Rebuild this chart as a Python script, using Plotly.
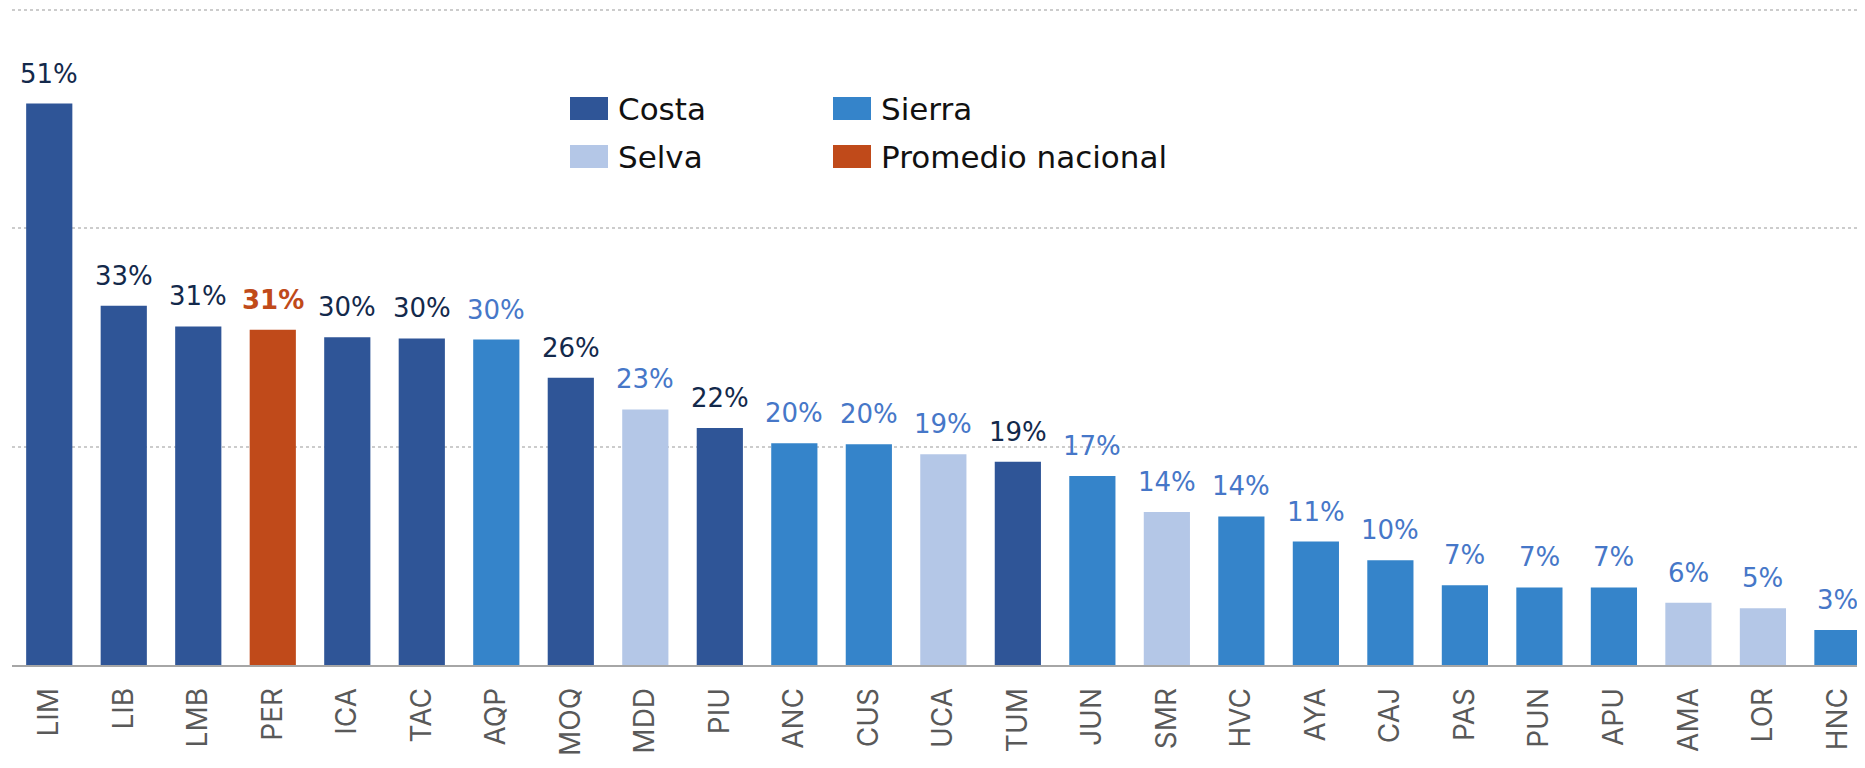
import plotly.graph_objects as go

categories = ["LIM", "LIB", "LMB", "PER", "ICA", "TAC", "AQP", "MOQ", "MDD", "PIU",
              "ANC", "CUS", "UCA", "TUM", "JUN", "SMR", "HVC", "AYA", "CAJ", "PAS",
              "PUN", "APU", "AMA", "LOR", "HNC"]
values = [51.4, 32.9, 31.0, 30.7, 30.0, 29.9, 29.8, 26.3, 23.4, 21.7,
          20.3, 20.2, 19.3, 18.6, 17.3, 14.0, 13.6, 11.3, 9.6, 7.3,
          7.1, 7.1, 5.7, 5.2, 3.2]
regions = ["Costa", "Costa", "Costa", "Promedio nacional", "Costa", "Costa", "Sierra", "Costa", "Selva", "Costa",
           "Sierra", "Sierra", "Selva", "Costa", "Sierra", "Selva", "Sierra", "Sierra", "Sierra", "Sierra",
           "Sierra", "Sierra", "Selva", "Selva", "Sierra"]
legend_order = ["Costa", "Sierra", "Selva", "Promedio nacional"]

bar_colors = {"Costa": "#2F5597", "Sierra": "#3584CA", "Selva": "#B4C7E7", "Promedio nacional": "#C04A1A"}
label_colors = {"Costa": "#13294B", "Sierra": "#4677C8", "Selva": "#4677C8", "Promedio nacional": "#C04A1A"}

# page body has an 8px margin; figure is sized/offset to compensate
OFF = 8
W, H = 1865 - OFF, 768 - OFF
ML, MR, MT, MB = 4, 0, 0, 103
FONT = "'DejaVu Sans', Inter, sans-serif"
TICKFONT = "Inter, Lato, sans-serif"

fig = go.Figure()
fig.add_trace(go.Bar(
    x=categories, y=values,
    marker=dict(color=[bar_colors[r] for r in regions], line=dict(width=0)),
    showlegend=False, hoverinfo="x+y",
))

annotations = []
for c, v, r in zip(categories, values, regions):
    bold = r == "Promedio nacional"
    txt = f"{round(v)}%"
    if bold:
        txt = f"<b>{txt}</b>"
    annotations.append(dict(
        x=c, y=v, xref="x", yref="y", text=txt, showarrow=False,
        yanchor="middle", yshift=30,
        font=dict(family=FONT, size=26, color=label_colors[r]),
    ))

def px(x):
    return (x - OFF - ML) / (W - ML - MR)

def py(y):
    return 1 - (y - OFF - MT) / (H - MT - MB)

shapes = []
legend_pos = {"Costa": (570, 97), "Sierra": (833, 97), "Selva": (570, 145), "Promedio nacional": (833, 145)}
for name in legend_order:
    x0, y0 = legend_pos[name]
    shapes.append(dict(type="rect", xref="paper", yref="paper",
                       x0=px(x0), x1=px(x0 + 38), y0=py(y0), y1=py(y0 + 23),
                       fillcolor=bar_colors[name], line=dict(width=0)))
    annotations.append(dict(
        x=px(x0 + 46), y=py(y0 + 12), xref="paper", yref="paper",
        text=name, showarrow=False, xanchor="left", yanchor="middle",
        font=dict(family=FONT, size=31, color="#111111"),
    ))

fig.update_layout(
    width=W, height=H,
    margin=dict(l=ML, r=MR, t=MT, b=MB, pad=0),
    paper_bgcolor="white", plot_bgcolor="white",
    bargap=0.38,
    shapes=shapes, annotations=annotations,
    xaxis=dict(
        type="category", range=[-0.5, 24.37],
        showline=True, linecolor="#A6A6A6", linewidth=1.5,
        showgrid=False, tickangle=-90, ticks="outside", ticklen=10, tickcolor="rgba(0,0,0,0)",
        tickfont=dict(family=TICKFONT, size=28, color="#595959"),
    ),
    yaxis=dict(
        range=[0, 60.15], tickvals=[20, 40, 60], showticklabels=False, showline=False, zeroline=False,
        showgrid=True, gridcolor="#CCCCCC", gridwidth=2, griddash="dot",
    ),
)

fig.write_html("out.html")
